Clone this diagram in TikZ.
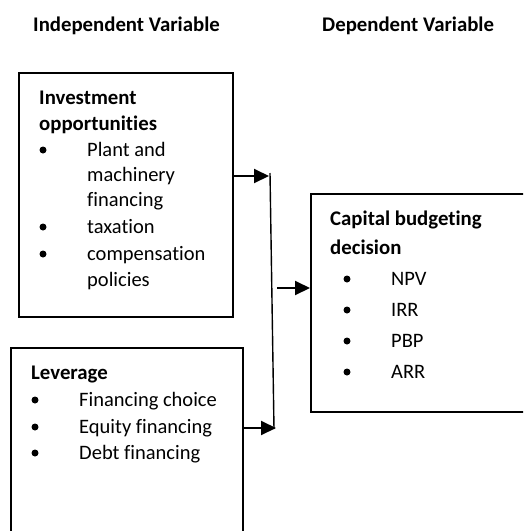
\documentclass[tikz,border=0pt]{standalone}
\usepackage{fontspec}
\setmainfont{Carlito}[Ligatures=NoCommon]
\usetikzlibrary{arrows.meta, positioning}
\tikzset{
  varbox/.style   = {draw, line width=2pt, inner sep=0pt, anchor=north west},
  head/.style     = {font=\bfseries\fontsize{20.8}{24}\selectfont, anchor=base west, inner sep=0pt},
  itm/.style      = {font=\fontsize{20.5}{24}\selectfont, anchor=base west, inner sep=0pt},
  link/.style     = {line width=2pt, -{Triangle[length=15pt, width=14pt]}},
  joinline/.style = {line width=1.4pt},
}
% bullet point: name, bullet x, text x, baseline, text
\newcommand{\bitem}[5]{%
  \fill (#2,#4-6) circle (3.5);
  \node[itm] (#1) at (#3,#4) {#5};
}

\begin{document}
\begin{tikzpicture}[x=1pt, y=-1pt]
  \useasboundingbox (0,0) rectangle (523,531);
  \clip (0,0) rectangle (523,531);

  % column titles
  \node[head] (indep) at (33,31) {Independent Variable};
  \node[head] (dep) at (322,31) {Dependent Variable};

  % boxes
  \node[varbox, minimum width=214pt, minimum height=244pt] (invbox) at (18,72) {};
  \node[varbox, minimum width=232pt, minimum height=200pt] (levbox) at (10,347) {};
  \node[varbox, minimum width=230pt, minimum height=218pt] (decbox) at (310,193) {};

  % investment opportunities
  \node[head] (invhead1) at (39,104) {Investment};
  \node[head] (invhead2) at (39,130) {opportunities};
  \bitem{plant}{43}{87}{156}{Plant and}
  \node[itm] (plant2) at (87,181) {machinery};
  \node[itm] (plant3) at (87,206) {financing};
  \bitem{tax}{43}{87}{233}{taxation}
  \bitem{comp}{43}{87}{260}{compensation}
  \node[itm] (comp2) at (87,286) {policies};

  % leverage
  \node[head] (levhead) at (31,379) {Leverage};
  \bitem{choice}{35}{79}{406}{Financing choice}
  \bitem{equity}{35}{79}{433}{Equity financing}
  \bitem{debt}{35}{79}{459}{Debt financing}

  % capital budgeting decision
  \node[head] (dechead1) at (330,225) {Capital budgeting};
  \node[head] (dechead2) at (330,254) {decision};
  \bitem{npv}{347}{391}{285}{NPV}
  \bitem{irr}{347}{391}{316}{IRR}
  \bitem{pbp}{347}{391}{347}{PBP}
  \bitem{arr}{347}{391}{378}{ARR}

  % connectors
  \coordinate (jtop) at (270,173);
  \coordinate (jbot) at (274,429);
  \coordinate (invend) at (269,176);
  \coordinate (levend) at (276,428);
  \coordinate (decstart) at (277,288);
  \draw[joinline] (jtop) -- (jbot);
  \draw[link] (invbox.east |- invend) -- (invend);
  \draw[link] ([xshift=-2pt]levbox.east |- levend) -- (levend);
  \draw[link] (decstart) -- (decbox.west |- decstart);
\end{tikzpicture}
\end{document}
